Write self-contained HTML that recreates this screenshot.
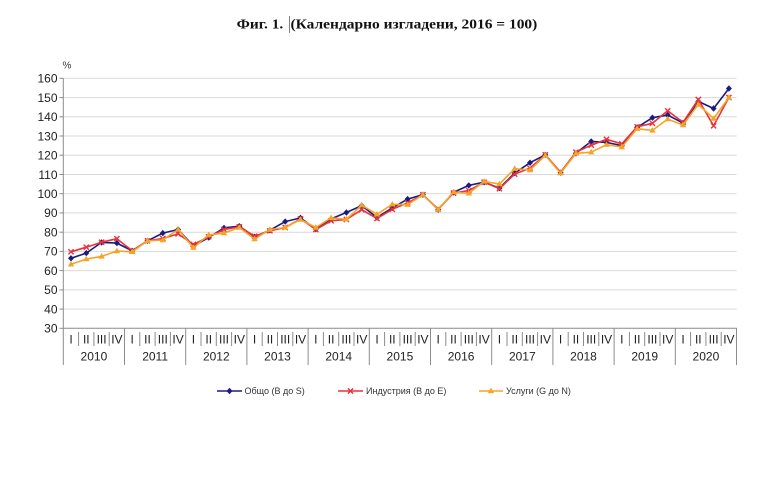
<!DOCTYPE html>
<html>
<head>
<meta charset="utf-8">
<style>
html,body{margin:0;padding:0;background:#fff;}
svg{display:block;}
</style>
</head>
<body>
<svg width="768" height="492" viewBox="0 0 768 492" xmlns="http://www.w3.org/2000/svg">
<defs>
  <polygon id="dm" points="0,-3.2 3,0 0,3.2 -3,0" fill="#1c1c80"/>
  <g id="xm"><path d="M-2.6,-2.6 L2.6,2.6 M-2.6,2.6 L2.6,-2.6" stroke="#e8323c" stroke-width="1.4" fill="none"/></g>
  <polygon id="tm" points="0,-3.4 3.2,2.2 -3.2,2.2" fill="#f6a428"/>
</defs>
<rect width="768" height="492" fill="#fff"/>

<!-- Title -->
<text x="236.7" y="28.5" font-family="'Liberation Serif', serif" font-weight="bold" font-size="14" fill="#111" textLength="46.6" lengthAdjust="spacingAndGlyphs">Фиг. 1.</text>
<line x1="289.5" y1="16" x2="289.5" y2="33" stroke="#666" stroke-width="0.8"/>
<text x="290.5" y="28.5" font-family="'Liberation Serif', serif" font-weight="bold" font-size="14" fill="#111" textLength="246.8" lengthAdjust="spacingAndGlyphs">(Календарно изгладени, 2016 = 100)</text>

<!-- % -->
<text x="62.5" y="68.5" font-family="'Liberation Sans', sans-serif" font-size="10" fill="#333">%</text>

<!-- Gridlines -->
<g stroke="#d9d9d9" stroke-width="1">
<line x1="63.3" y1="78.3" x2="736.7" y2="78.3"/>
<line x1="63.3" y1="97.6" x2="736.7" y2="97.6"/>
<line x1="63.3" y1="116.8" x2="736.7" y2="116.8"/>
<line x1="63.3" y1="136.0" x2="736.7" y2="136.0"/>
<line x1="63.3" y1="155.2" x2="736.7" y2="155.2"/>
<line x1="63.3" y1="174.5" x2="736.7" y2="174.5"/>
<line x1="63.3" y1="193.7" x2="736.7" y2="193.7"/>
<line x1="63.3" y1="212.9" x2="736.7" y2="212.9"/>
<line x1="63.3" y1="232.2" x2="736.7" y2="232.2"/>
<line x1="63.3" y1="251.4" x2="736.7" y2="251.4"/>
<line x1="63.3" y1="270.6" x2="736.7" y2="270.6"/>
<line x1="63.3" y1="289.9" x2="736.7" y2="289.9"/>
<line x1="63.3" y1="309.1" x2="736.7" y2="309.1"/>
</g>

<!-- Axes -->
<g stroke="#8c8c8c" stroke-width="1">
<line x1="63.3" y1="78.3" x2="63.3" y2="328.3"/>
<line x1="63.3" y1="328.3" x2="736.7" y2="328.3"/>
<line x1="59.5" y1="78.3" x2="63.3" y2="78.3"/>
<line x1="59.5" y1="97.6" x2="63.3" y2="97.6"/>
<line x1="59.5" y1="116.8" x2="63.3" y2="116.8"/>
<line x1="59.5" y1="136.0" x2="63.3" y2="136.0"/>
<line x1="59.5" y1="155.2" x2="63.3" y2="155.2"/>
<line x1="59.5" y1="174.5" x2="63.3" y2="174.5"/>
<line x1="59.5" y1="193.7" x2="63.3" y2="193.7"/>
<line x1="59.5" y1="212.9" x2="63.3" y2="212.9"/>
<line x1="59.5" y1="232.2" x2="63.3" y2="232.2"/>
<line x1="59.5" y1="251.4" x2="63.3" y2="251.4"/>
<line x1="59.5" y1="270.6" x2="63.3" y2="270.6"/>
<line x1="59.5" y1="289.9" x2="63.3" y2="289.9"/>
<line x1="59.5" y1="309.1" x2="63.3" y2="309.1"/>
<line x1="59.5" y1="328.3" x2="63.3" y2="328.3"/>
</g>

<!-- Y labels -->
<g font-family="'Liberation Sans', sans-serif" font-size="12" fill="#222" text-anchor="end">
<text x="57.5" y="82.6">160</text>
<text x="57.5" y="101.9">150</text>
<text x="57.5" y="121.1">140</text>
<text x="57.5" y="140.3">130</text>
<text x="57.5" y="159.5">120</text>
<text x="57.5" y="178.8">110</text>
<text x="57.5" y="198.0">100</text>
<text x="57.5" y="217.2">90</text>
<text x="57.5" y="236.5">80</text>
<text x="57.5" y="255.7">70</text>
<text x="57.5" y="274.9">60</text>
<text x="57.5" y="294.2">50</text>
<text x="57.5" y="313.4">40</text>
<text x="57.5" y="332.6">30</text>
</g>

<!-- X separators -->
<g stroke="#8c8c8c" stroke-width="1">
<line x1="63.3" y1="328.3" x2="63.3" y2="365"/>
<line x1="124.5" y1="328.3" x2="124.5" y2="365"/>
<line x1="185.7" y1="328.3" x2="185.7" y2="365"/>
<line x1="246.9" y1="328.3" x2="246.9" y2="365"/>
<line x1="308.1" y1="328.3" x2="308.1" y2="365"/>
<line x1="369.3" y1="328.3" x2="369.3" y2="365"/>
<line x1="430.5" y1="328.3" x2="430.5" y2="365"/>
<line x1="491.7" y1="328.3" x2="491.7" y2="365"/>
<line x1="552.9" y1="328.3" x2="552.9" y2="365"/>
<line x1="614.1" y1="328.3" x2="614.1" y2="365"/>
<line x1="675.3" y1="328.3" x2="675.3" y2="365"/>
<line x1="736.5" y1="328.3" x2="736.5" y2="365"/>
</g>
<g stroke="#8c8c8c" stroke-width="1">
<line x1="78.6" y1="332" x2="78.6" y2="346"/><line x1="93.9" y1="332" x2="93.9" y2="346"/><line x1="109.2" y1="332" x2="109.2" y2="346"/>
<line x1="139.8" y1="332" x2="139.8" y2="346"/><line x1="155.1" y1="332" x2="155.1" y2="346"/><line x1="170.4" y1="332" x2="170.4" y2="346"/>
<line x1="201.0" y1="332" x2="201.0" y2="346"/><line x1="216.3" y1="332" x2="216.3" y2="346"/><line x1="231.6" y1="332" x2="231.6" y2="346"/>
<line x1="262.2" y1="332" x2="262.2" y2="346"/><line x1="277.5" y1="332" x2="277.5" y2="346"/><line x1="292.8" y1="332" x2="292.8" y2="346"/>
<line x1="323.4" y1="332" x2="323.4" y2="346"/><line x1="338.7" y1="332" x2="338.7" y2="346"/><line x1="354.0" y1="332" x2="354.0" y2="346"/>
<line x1="384.6" y1="332" x2="384.6" y2="346"/><line x1="399.9" y1="332" x2="399.9" y2="346"/><line x1="415.2" y1="332" x2="415.2" y2="346"/>
<line x1="445.8" y1="332" x2="445.8" y2="346"/><line x1="461.1" y1="332" x2="461.1" y2="346"/><line x1="476.4" y1="332" x2="476.4" y2="346"/>
<line x1="507.0" y1="332" x2="507.0" y2="346"/><line x1="522.3" y1="332" x2="522.3" y2="346"/><line x1="537.6" y1="332" x2="537.6" y2="346"/>
<line x1="568.2" y1="332" x2="568.2" y2="346"/><line x1="583.5" y1="332" x2="583.5" y2="346"/><line x1="598.8" y1="332" x2="598.8" y2="346"/>
<line x1="629.4" y1="332" x2="629.4" y2="346"/><line x1="644.7" y1="332" x2="644.7" y2="346"/><line x1="660.0" y1="332" x2="660.0" y2="346"/>
<line x1="690.6" y1="332" x2="690.6" y2="346"/><line x1="705.9" y1="332" x2="705.9" y2="346"/><line x1="721.2" y1="332" x2="721.2" y2="346"/>
</g>

<!-- Quarter labels -->
<g font-family="'Liberation Sans', sans-serif" font-size="12" fill="#222" text-anchor="middle">
<text x="71" y="343.5">I</text><text x="86.3" y="343.5">II</text><text x="101.6" y="343.5">III</text><text x="116.9" y="343.5">IV</text>
<text x="132.2" y="343.5">I</text><text x="147.5" y="343.5">II</text><text x="162.8" y="343.5">III</text><text x="178.1" y="343.5">IV</text>
<text x="193.4" y="343.5">I</text><text x="208.7" y="343.5">II</text><text x="224" y="343.5">III</text><text x="239.3" y="343.5">IV</text>
<text x="254.6" y="343.5">I</text><text x="269.9" y="343.5">II</text><text x="285.2" y="343.5">III</text><text x="300.5" y="343.5">IV</text>
<text x="315.8" y="343.5">I</text><text x="331.1" y="343.5">II</text><text x="346.4" y="343.5">III</text><text x="361.7" y="343.5">IV</text>
<text x="377" y="343.5">I</text><text x="392.3" y="343.5">II</text><text x="407.6" y="343.5">III</text><text x="422.9" y="343.5">IV</text>
<text x="438.2" y="343.5">I</text><text x="453.5" y="343.5">II</text><text x="468.8" y="343.5">III</text><text x="484.1" y="343.5">IV</text>
<text x="499.4" y="343.5">I</text><text x="514.7" y="343.5">II</text><text x="530" y="343.5">III</text><text x="545.3" y="343.5">IV</text>
<text x="560.6" y="343.5">I</text><text x="575.9" y="343.5">II</text><text x="591.2" y="343.5">III</text><text x="606.5" y="343.5">IV</text>
<text x="621.8" y="343.5">I</text><text x="637.1" y="343.5">II</text><text x="652.4" y="343.5">III</text><text x="667.7" y="343.5">IV</text>
<text x="683" y="343.5">I</text><text x="698.3" y="343.5">II</text><text x="713.6" y="343.5">III</text><text x="728.9" y="343.5">IV</text>
</g>

<!-- Year labels -->
<g font-family="'Liberation Sans', sans-serif" font-size="12" fill="#222" text-anchor="middle">
<text x="93.9" y="360.5">2010</text>
<text x="155.1" y="360.5">2011</text>
<text x="216.3" y="360.5">2012</text>
<text x="277.5" y="360.5">2013</text>
<text x="338.7" y="360.5">2014</text>
<text x="399.9" y="360.5">2015</text>
<text x="461.1" y="360.5">2016</text>
<text x="522.3" y="360.5">2017</text>
<text x="583.5" y="360.5">2018</text>
<text x="644.7" y="360.5">2019</text>
<text x="705.9" y="360.5">2020</text>
</g>

<!-- Series: Общо (blue) -->
<polyline fill="none" stroke="#1c1c80" stroke-width="1.6" stroke-linejoin="round" points="71,258.3 86.3,253.1 101.6,242.4 116.9,243.1 132.2,250.8 147.5,240.8 162.8,233.1 178.1,229.5 193.4,246.0 208.7,237.5 224,227.9 239.3,226.2 254.6,236.8 269.9,230.2 285.2,221.6 300.5,217.9 315.8,229.1 331.1,218.9 346.4,212.5 361.7,205.6 377,217.5 392.3,207.9 407.6,199.1 422.9,194.7 438.2,209.7 453.5,192.4 468.8,185.4 484.1,182.2 499.4,188.1 514.7,173.1 530,162.7 545.3,154.9 560.6,172.7 575.9,153.3 591.2,141.4 606.5,142.4 621.8,145.6 637.1,127.4 652.4,117.7 667.7,115.1 683,123.1 698.3,101.4 713.6,108.5 728.9,88.5"/>
<g>
<use href="#dm" x="71" y="258.3"/><use href="#dm" x="86.3" y="253.1"/><use href="#dm" x="101.6" y="242.4"/><use href="#dm" x="116.9" y="243.1"/><use href="#dm" x="132.2" y="250.8"/><use href="#dm" x="147.5" y="240.8"/><use href="#dm" x="162.8" y="233.1"/><use href="#dm" x="178.1" y="229.5"/><use href="#dm" x="193.4" y="246.0"/><use href="#dm" x="208.7" y="237.5"/><use href="#dm" x="224" y="227.9"/><use href="#dm" x="239.3" y="226.2"/><use href="#dm" x="254.6" y="236.8"/><use href="#dm" x="269.9" y="230.2"/><use href="#dm" x="285.2" y="221.6"/><use href="#dm" x="300.5" y="217.9"/><use href="#dm" x="315.8" y="229.1"/><use href="#dm" x="331.1" y="218.9"/><use href="#dm" x="346.4" y="212.5"/><use href="#dm" x="361.7" y="205.6"/><use href="#dm" x="377" y="217.5"/><use href="#dm" x="392.3" y="207.9"/><use href="#dm" x="407.6" y="199.1"/><use href="#dm" x="422.9" y="194.7"/><use href="#dm" x="438.2" y="209.7"/><use href="#dm" x="453.5" y="192.4"/><use href="#dm" x="468.8" y="185.4"/><use href="#dm" x="484.1" y="182.2"/><use href="#dm" x="499.4" y="188.1"/><use href="#dm" x="514.7" y="173.1"/><use href="#dm" x="530" y="162.7"/><use href="#dm" x="545.3" y="154.9"/><use href="#dm" x="560.6" y="172.7"/><use href="#dm" x="575.9" y="153.3"/><use href="#dm" x="591.2" y="141.4"/><use href="#dm" x="606.5" y="142.4"/><use href="#dm" x="621.8" y="145.6"/><use href="#dm" x="637.1" y="127.4"/><use href="#dm" x="652.4" y="117.7"/><use href="#dm" x="667.7" y="115.1"/><use href="#dm" x="683" y="123.1"/><use href="#dm" x="698.3" y="101.4"/><use href="#dm" x="713.6" y="108.5"/><use href="#dm" x="728.9" y="88.5"/>
</g>

<!-- Series: Индустрия (red) -->
<polyline fill="none" stroke="#e8323c" stroke-width="1.6" stroke-linejoin="round" points="71,251.8 86.3,247.2 101.6,242.2 116.9,238.7 132.2,250.8 147.5,240.8 162.8,238.5 178.1,233.9 193.4,244.5 208.7,236.8 224,229.5 239.3,226.8 254.6,236.2 269.9,230.8 285.2,227.5 300.5,218.9 315.8,229.5 331.1,220.8 346.4,219.5 361.7,209.7 377,218.5 392.3,209.3 407.6,202.9 422.9,194.7 438.2,209.1 453.5,193.1 468.8,190.6 484.1,182.2 499.4,188.7 514.7,174.1 530,168.1 545.3,154.9 560.6,172.2 575.9,152.2 591.2,145.2 606.5,139.3 621.8,143.9 637.1,126.8 652.4,123.3 667.7,110.8 683,122.4 698.3,99.5 713.6,125.8 728.9,97.5"/>
<g>
<use href="#xm" x="71" y="251.8"/><use href="#xm" x="86.3" y="247.2"/><use href="#xm" x="101.6" y="242.2"/><use href="#xm" x="116.9" y="238.7"/><use href="#xm" x="132.2" y="250.8"/><use href="#xm" x="147.5" y="240.8"/><use href="#xm" x="162.8" y="238.5"/><use href="#xm" x="178.1" y="233.9"/><use href="#xm" x="193.4" y="244.5"/><use href="#xm" x="208.7" y="236.8"/><use href="#xm" x="224" y="229.5"/><use href="#xm" x="239.3" y="226.8"/><use href="#xm" x="254.6" y="236.2"/><use href="#xm" x="269.9" y="230.8"/><use href="#xm" x="285.2" y="227.5"/><use href="#xm" x="300.5" y="218.9"/><use href="#xm" x="315.8" y="229.5"/><use href="#xm" x="331.1" y="220.8"/><use href="#xm" x="346.4" y="219.5"/><use href="#xm" x="361.7" y="209.7"/><use href="#xm" x="377" y="218.5"/><use href="#xm" x="392.3" y="209.3"/><use href="#xm" x="407.6" y="202.9"/><use href="#xm" x="422.9" y="194.7"/><use href="#xm" x="438.2" y="209.1"/><use href="#xm" x="453.5" y="193.1"/><use href="#xm" x="468.8" y="190.6"/><use href="#xm" x="484.1" y="182.2"/><use href="#xm" x="499.4" y="188.7"/><use href="#xm" x="514.7" y="174.1"/><use href="#xm" x="530" y="168.1"/><use href="#xm" x="545.3" y="154.9"/><use href="#xm" x="560.6" y="172.2"/><use href="#xm" x="575.9" y="152.2"/><use href="#xm" x="591.2" y="145.2"/><use href="#xm" x="606.5" y="139.3"/><use href="#xm" x="621.8" y="143.9"/><use href="#xm" x="637.1" y="126.8"/><use href="#xm" x="652.4" y="123.3"/><use href="#xm" x="667.7" y="110.8"/><use href="#xm" x="683" y="122.4"/><use href="#xm" x="698.3" y="99.5"/><use href="#xm" x="713.6" y="125.8"/><use href="#xm" x="728.9" y="97.5"/>
</g>

<!-- Series: Услуги (orange) -->
<polyline fill="none" stroke="#f6a428" stroke-width="1.6" stroke-linejoin="round" points="71,264.3 86.3,259.1 101.6,256.4 116.9,251.0 132.2,251.8 147.5,240.8 162.8,240.0 178.1,229.5 193.4,247.7 208.7,234.9 224,233.1 239.3,227.5 254.6,239.1 269.9,229.5 285.2,227.5 300.5,219.5 315.8,227.5 331.1,217.9 346.4,219.3 361.7,205.2 377,214.3 392.3,204.3 407.6,204.7 422.9,194.7 438.2,209.7 453.5,192.0 468.8,193.3 484.1,181.4 499.4,184.1 514.7,168.7 530,170.0 545.3,155.4 560.6,173.1 575.9,153.3 591.2,152.2 606.5,144.7 621.8,147.0 637.1,128.7 652.4,130.4 667.7,119.1 683,125.0 698.3,104.5 713.6,118.5 728.9,97.5"/>
<g>
<use href="#tm" x="71" y="264.3"/><use href="#tm" x="86.3" y="259.1"/><use href="#tm" x="101.6" y="256.4"/><use href="#tm" x="116.9" y="251.0"/><use href="#tm" x="132.2" y="251.8"/><use href="#tm" x="147.5" y="240.8"/><use href="#tm" x="162.8" y="240.0"/><use href="#tm" x="178.1" y="229.5"/><use href="#tm" x="193.4" y="247.7"/><use href="#tm" x="208.7" y="234.9"/><use href="#tm" x="224" y="233.1"/><use href="#tm" x="239.3" y="227.5"/><use href="#tm" x="254.6" y="239.1"/><use href="#tm" x="269.9" y="229.5"/><use href="#tm" x="285.2" y="227.5"/><use href="#tm" x="300.5" y="219.5"/><use href="#tm" x="315.8" y="227.5"/><use href="#tm" x="331.1" y="217.9"/><use href="#tm" x="346.4" y="219.3"/><use href="#tm" x="361.7" y="205.2"/><use href="#tm" x="377" y="214.3"/><use href="#tm" x="392.3" y="204.3"/><use href="#tm" x="407.6" y="204.7"/><use href="#tm" x="422.9" y="194.7"/><use href="#tm" x="438.2" y="209.7"/><use href="#tm" x="453.5" y="192.0"/><use href="#tm" x="468.8" y="193.3"/><use href="#tm" x="484.1" y="181.4"/><use href="#tm" x="499.4" y="184.1"/><use href="#tm" x="514.7" y="168.7"/><use href="#tm" x="530" y="170.0"/><use href="#tm" x="545.3" y="155.4"/><use href="#tm" x="560.6" y="173.1"/><use href="#tm" x="575.9" y="153.3"/><use href="#tm" x="591.2" y="152.2"/><use href="#tm" x="606.5" y="144.7"/><use href="#tm" x="621.8" y="147.0"/><use href="#tm" x="637.1" y="128.7"/><use href="#tm" x="652.4" y="130.4"/><use href="#tm" x="667.7" y="119.1"/><use href="#tm" x="683" y="125.0"/><use href="#tm" x="698.3" y="104.5"/><use href="#tm" x="713.6" y="118.5"/><use href="#tm" x="728.9" y="97.5"/>
</g>

<!-- Legend -->
<g font-family="'Liberation Sans', sans-serif" font-size="9" fill="#333">
<line x1="217" y1="391" x2="242" y2="391" stroke="#1c1c80" stroke-width="1.6"/>
<use href="#dm" x="229.5" y="391"/>
<text x="244.5" y="394.2">Общо (В до S)</text>
<line x1="338" y1="391" x2="363" y2="391" stroke="#e8323c" stroke-width="1.6"/>
<use href="#xm" x="350.5" y="391"/>
<text x="366" y="394.2">Индустрия (В до Е)</text>
<line x1="479" y1="391" x2="503" y2="391" stroke="#f6a428" stroke-width="1.6"/>
<use href="#tm" x="491" y="391"/>
<text x="506" y="394.2">Услуги (G до N)</text>
</g>
</svg>
</body>
</html>
